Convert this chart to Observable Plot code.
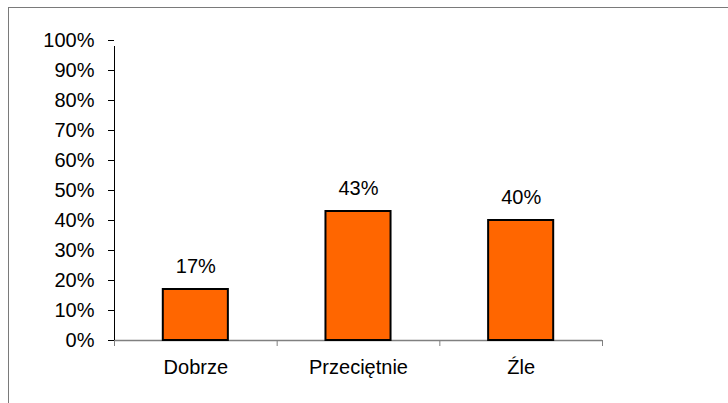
<!DOCTYPE html>
<html>
<head>
<meta charset="utf-8">
<script src="https://cdn.jsdelivr.net/npm/d3@7"></script>
<script src="https://cdn.jsdelivr.net/npm/@observablehq/plot@0.6"></script>
<style>
  html, body { margin: 0; padding: 0; background: #fff; }
  #wrap { position: relative; width: 728px; height: 403px; overflow: hidden; }
  #frame { position: absolute; left: 8px; top: 7px; width: 760px; height: 440px;
           border-top: 1.5px solid #7a7a7a; border-left: 1.5px solid #7a7a7a; pointer-events: none; }
  svg { position: absolute; left: 0; top: 0; }
</style>
</head>
<body>
<div id="wrap"><div id="frame"></div></div>
<script>
const categories = ["Dobrze", "Przeciętnie", "Źle"];
const values = [17, 43, 40];
const yTicks = [0, 10, 20, 30, 40, 50, 60, 70, 80, 90, 100];

const data = categories.map((c, i) => ({category: c, index: i, value: values[i]}));
const boundaries = d3.range(categories.length + 1);

const chart = Plot.plot({
  width: 728,
  height: 403,
  marginLeft: 114,
  marginRight: 126,
  marginTop: 40,
  marginBottom: 63,
  style: {fontFamily: "'Liberation Sans', Arial, sans-serif", fontSize: "20px", color: "#000", background: "transparent"},
  x: {type: "linear", domain: [0, categories.length], axis: null},
  y: {domain: [0, 100], axis: null},
  marks: [
    Plot.axisY({ticks: yTicks, tickFormat: d => d + "%", tickSize: 6, tickPadding: 14,
                stroke: "#000", fill: "#000", fontSize: 20, label: null}),
    Plot.axisX({ticks: boundaries, tickFormat: () => "", tickSize: 6, stroke: "#808080", anchor: "bottom", label: null}),
    Plot.ruleY([0], {stroke: "#808080", strokeWidth: 1.5}),
    Plot.ruleX([0], {y1: 0, y2: 100, insetBottom: -6, stroke: "#000", strokeWidth: 1}),
    Plot.rectY(data, {x1: d => d.index + 0.3, x2: d => d.index + 0.7, y1: 0, y2: "value",
                      fill: "#FF6600", stroke: "#000", strokeWidth: 2}),
    Plot.text(data, {x: d => d.index + 0.5, y: "value", text: d => d.value + "%", dy: -23.4,
                     fill: "#000", fontSize: 20}),
    Plot.text(data, {x: d => d.index + 0.5, y: 0, text: "category", dy: 26.6,
                     fill: "#000", fontSize: 20})
  ]
});
document.getElementById("wrap").prepend(chart);
</script>
</body>
</html>
